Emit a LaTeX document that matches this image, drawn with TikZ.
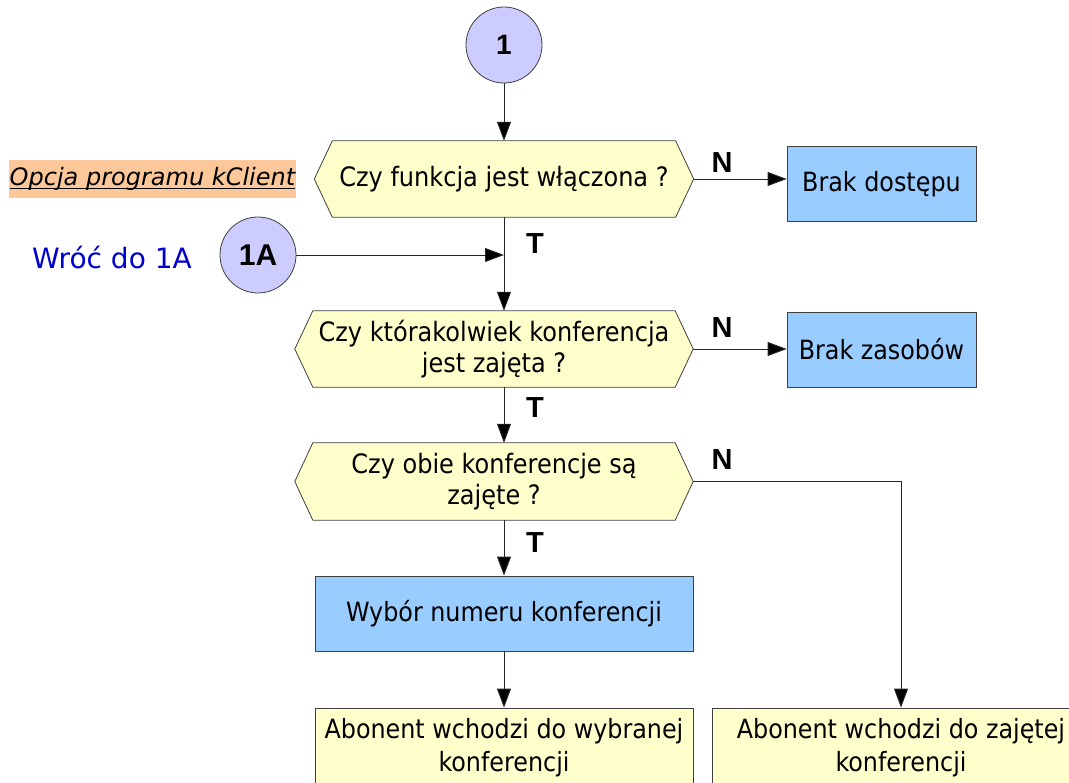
\documentclass[tikz,border=0pt]{standalone}
\usepackage{fontspec}
\setmainfont{DejaVu Sans Condensed}
\newfontfamily\optfont{DejaVu Sans}
\newfontfamily\markfont{Liberation Sans}
\usepackage{tikz}
\usetikzlibrary{positioning,arrows.meta,backgrounds}
\usepackage{xcolor}

\definecolor{hexfill}{HTML}{FFFFCC}
\definecolor{boxblue}{HTML}{99CCFF}
\definecolor{circfill}{HTML}{CCCCFF}
\definecolor{optfill}{HTML}{FCC89A}
\definecolor{backblue}{HTML}{0000CC}

% underline that crosses the descenders
\newcommand{\optul}[1]{\setbox0\hbox{#1}\rlap{\rule[-3.5pt]{\wd0}{1.1pt}}\box0}

\begin{document}
\begin{tikzpicture}[x=1pt,y=-1pt,
    question/.style={minimum width=398pt, minimum height=76pt, inner sep=0pt, align=center, font=\fontsize{26.7}{31}\selectfont},
    hexline/.style={draw=black!75, fill=hexfill, line width=0.8pt},
    action/.style={draw=black!75, fill=boxblue, line width=0.8pt, minimum height=75pt, inner sep=0pt, align=center, font=\fontsize{26.5}{31}\selectfont},
    result/.style={draw=black!75, fill=hexfill, line width=0.8pt, minimum width=378pt, minimum height=79pt, inner sep=0pt, align=center, font=\fontsize{26.5}{33}\selectfont},
    connector/.style={circle, draw=black!75, fill=circfill, line width=0.8pt, minimum size=76pt, inner sep=0pt, font=\markfont\bfseries\fontsize{28}{30}\selectfont},
    answer/.style={font=\markfont\bfseries\fontsize{29}{30}\selectfont},
    flow/.style={draw=black!85, line width=0.9pt, -{Triangle[length=19pt,width=14pt,fill=black]}}]
                \clip (0,0) rectangle (1069,783);
                \useasboundingbox (0,0) rectangle (1069,783);

                % Start connector
                \node[connector] (c1) at (504,45) {1};

                % Question: function on?
                \node[question, minimum width=379pt] (q1) at (504,179) {Czy funkcja jest włączona ?};
                \node[action, minimum width=189pt] (dostep) at (881.5,184) {Brak dostępu};
                \node[fill=optfill, minimum width=287pt, minimum height=38pt, inner sep=0pt, font=\optfont\itshape\fontsize{24}{28}\selectfont] (opcja) at (152.5,179) {\optul{Opcja programu kClient}};

                % Return point 1A
                \node[connector, font=\markfont\bfseries\fontsize{30}{30}\selectfont] (c1a) at (258,255) {1A};
                \node[text=backblue, font=\optfont\fontsize{28}{30}\selectfont] (back) at (112,258) {Wróć do 1A};

                % Question: any conference busy?
                \node[question] (q2) at (494,349) {Czy którakolwiek konferencja\\jest zajęta ?};
                \node[action, minimum width=189pt] (zasoby) at (881.5,349.5) {Brak zasobów};

                % Question: both busy?
                \node[question, minimum height=77pt] (q3) at (494,481.5) {Czy obie konferencje są\\zajęte ?};

                % Choice and results
                \node[action, minimum width=378pt] (wybor) at (504,613.5) {Wybór numeru konferencji};
                \node[result] (abon1) at (504,747.5) {Abonent wchodzi do wybranej\\konferencji};
                \node[result] (abon2) at (901,747.5) {Abonent wchodzi do zajętej\\konferencji};

                % Hexagons behind the questions
                \begin{scope}[on background layer]
                    \foreach \q in {q1,q2,q3}
                        \draw[hexline] (\q.west) -- ([xshift=18pt]\q.north west) -- ([xshift=-18pt]\q.north east) -- (\q.east) -- ([xshift=-18pt]\q.south east) -- ([xshift=18pt]\q.south west) -- cycle;
                \end{scope}

                % Connectors
                \draw[flow] (c1.south) -- (q1.north);
                \draw[flow] (q1.east) -- (q1.east -| dostep.west);
                \draw[flow] (q1.south) -- (q1.south |- q2.north);
                \draw[flow] (c1a.east) -- (c1a.east -| q1.south);
                \draw[flow] (q2.east) -- (q2.east -| zasoby.west);
                \draw[flow] (q2.south -| q1.south) -- (q3.north -| q1.south);
                \draw[flow] (q3.east) -| (abon2.north);
                \draw[flow] (q3.south -| wybor.north) -- (wybor.north);
                \draw[flow] (wybor.south) -- (abon1.north);

                % Answers
                \node[answer] (n1) at (722,163) {N};
                \node[answer] (n2) at (722,328) {N};
                \node[answer] (n3) at (722,460) {N};
                \node[answer] (t1) at (535,244) {T};
                \node[answer] (t2) at (535,408) {T};
                \node[answer] (t3) at (535,543) {T};
            \end{tikzpicture}
\end{document}
